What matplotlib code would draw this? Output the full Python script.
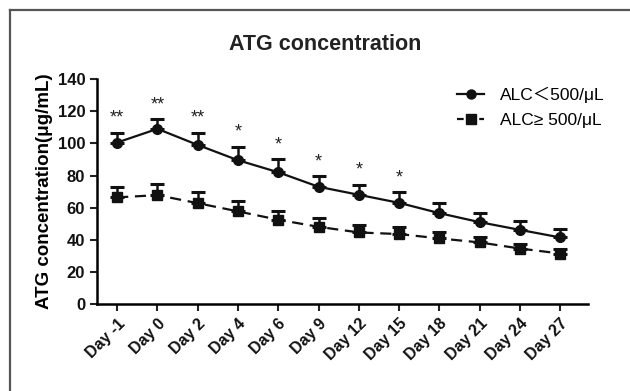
import numpy as np
import matplotlib
matplotlib.use("Agg")
import matplotlib.pyplot as plt
import matplotlib.transforms as mtransforms
from matplotlib.lines import Line2D

plt.rcParams['font.family'] = ['Liberation Sans', 'Noto Sans CJK SC', 'DejaVu Sans']

days = ["Day -1", "Day 0", "Day 2", "Day 4", "Day 6", "Day 9", "Day 12",
        "Day 15", "Day 18", "Day 21", "Day 24", "Day 27"]
low_alc = [100.5, 109, 99, 89.5, 82, 73, 68, 63, 56.6, 51, 46.2, 41.5]
low_alc_err = [6, 6, 7.5, 8.3, 8, 6.4, 6.4, 6.7, 6, 5.6, 5.6, 5]
high_alc = [66.4, 67.8, 62.8, 57.7, 52.5, 48.1, 44.6, 43.6, 40.9, 38.4, 34.6, 31.5]
high_alc_err = [6.6, 7, 7, 6.6, 5.6, 5.4, 4.6, 4.1, 3.7, 3.1, 2.7, 2.7]
signif = ["**", "**", "**", "*", "*", "*", "*", "*", "", "", "", ""]

fig = plt.figure(figsize=(6.3, 3.91), dpi=100)
ax = fig.add_axes([0.154, 0.222, 0.78, 0.576])

x = np.arange(len(days))
ax.errorbar(x, low_alc, yerr=[np.zeros(len(x)), low_alc_err], color='#111111',
            marker='o', markersize=7, linewidth=1.6, capsize=5, capthick=2.2,
            elinewidth=1.8, linestyle='-')
ax.errorbar(x, high_alc, yerr=[np.zeros(len(x)), high_alc_err], color='#111111',
            marker='s', markersize=7.5, linewidth=1.6, capsize=5, capthick=2.2,
            elinewidth=1.8, linestyle=(0, (5, 3)))

for i, s in enumerate(signif):
    if s:
        ax.text(x[i], low_alc[i] + low_alc_err[i] + 9, s, ha='center', va='center',
                fontsize=13, color='#222222')

ax.set_xlim(-0.5, len(days) - 0.3)
ax.set_ylim(0, 140)
ax.set_yticks(range(0, 141, 20))
ax.set_xticks(x)
ax.set_xticklabels(days, rotation=45, ha='right', rotation_mode='anchor',
                   fontsize=11.5, fontweight='bold')
shift = mtransforms.ScaledTranslation(4 / 72, -2 / 72, fig.dpi_scale_trans)
for lab in ax.get_xticklabels():
    lab.set_transform(lab.get_transform() + shift)
for lab in ax.get_yticklabels():
    lab.set_fontweight('bold')
    lab.set_fontsize(12)
ax.tick_params(axis='both', width=1.5, length=5, direction='out', color='#222222',
               labelcolor='#111111')
ax.spines['top'].set_visible(False)
ax.spines['right'].set_visible(False)
ax.spines['left'].set_linewidth(1.8)
ax.spines['bottom'].set_linewidth(1.8)

ax.set_ylabel("ATG concentration(μg/mL)", fontsize=13.5, fontweight='bold', labelpad=3)
fig.text(0.516, 0.885, "ATG concentration", ha='center', va='center',
         fontsize=15.5, fontweight='bold', color='#222222')

handles = [Line2D([], [], color='#111111', marker='o', markersize=6.5, linewidth=1.6),
           Line2D([], [], color='#111111', marker='s', markersize=6.5, linewidth=1.6,
                  linestyle=(0, (3, 2)))]
ax.legend(handles, ["ALC＜500/μL", "ALC≥ 500/μL"], loc='upper right',
          bbox_to_anchor=(1.065, 1.035), frameon=False, fontsize=12.5,
          handlelength=1.6, handletextpad=0.9, labelspacing=0.55)

# grey frame along the top and left edges
fig.add_artist(Line2D([0.016, 0.016], [0.0, 0.974], color='#555555', linewidth=1.6,
                      transform=fig.transFigure))
fig.add_artist(Line2D([0.016, 1.0], [0.974, 0.974], color='#555555', linewidth=1.6,
                      transform=fig.transFigure))

fig.savefig("out.png", dpi=100)
